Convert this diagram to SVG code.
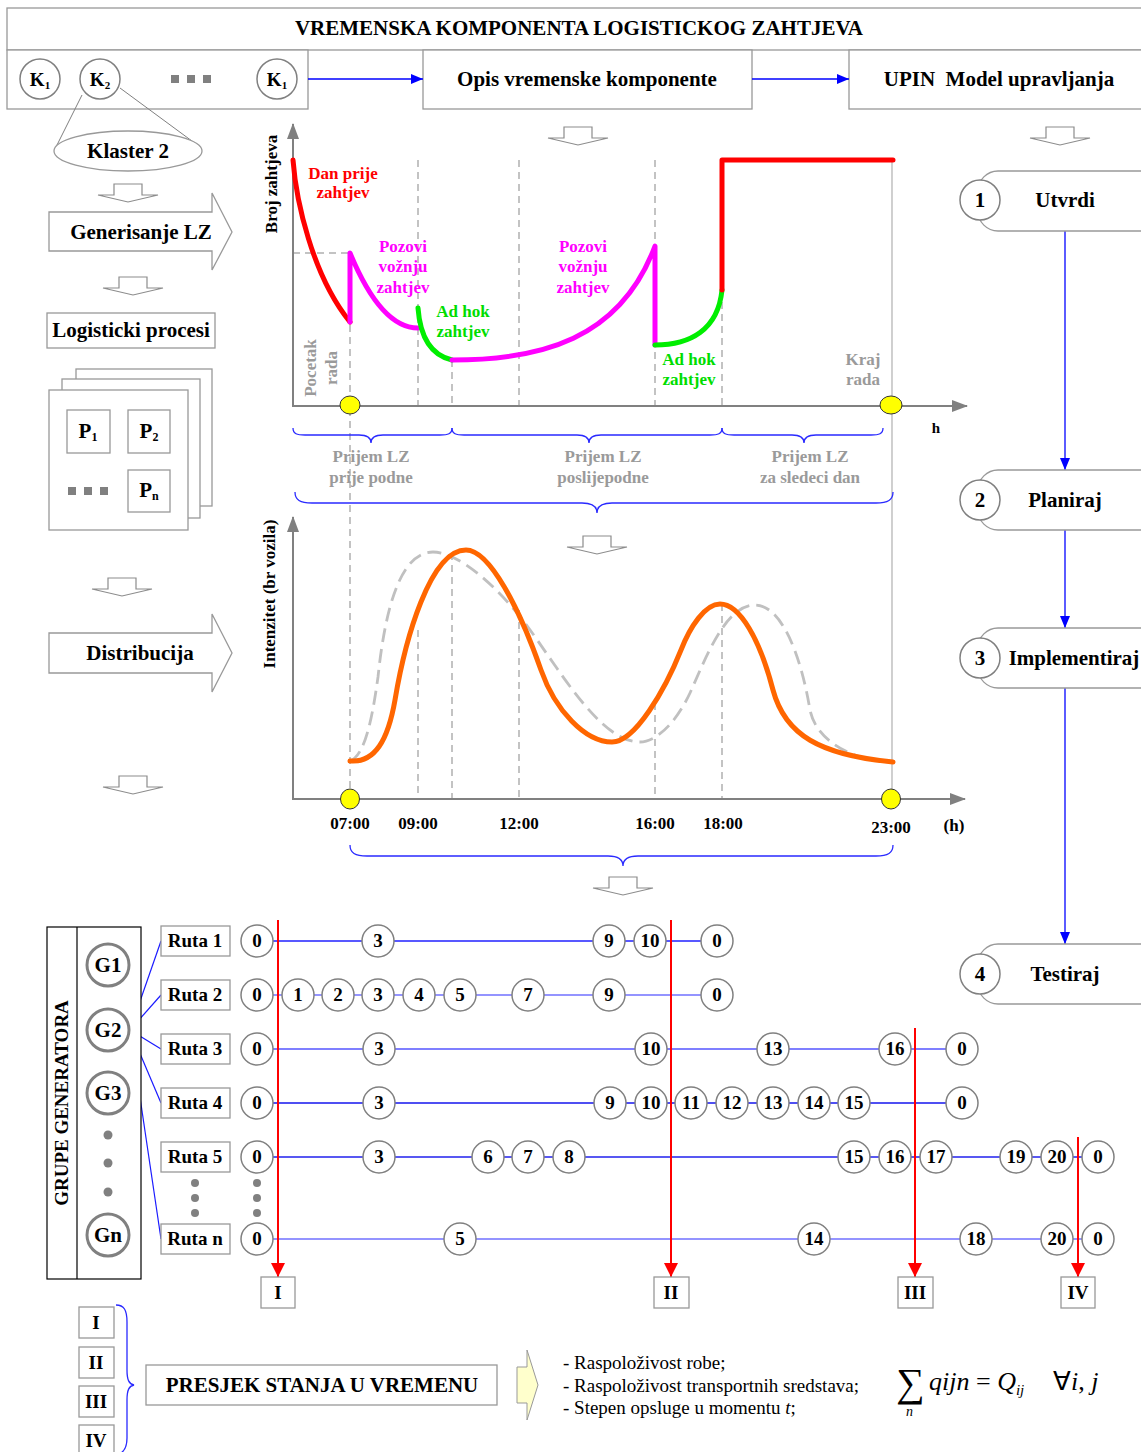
<svg xmlns="http://www.w3.org/2000/svg" width="1141" height="1452" viewBox="0 0 1141 1452">
<style>
  text { font-family: "Liberation Serif", "Times New Roman", serif; fill: #000; }
  .b { font-weight: bold; text-anchor: middle; }
  .s15 { font-size: 15px; } .s17 { font-size: 17px; } .s19 { font-size: 19px; } .s21 { font-size: 21px; }
  text.gray { fill: #9a9a9a; }
  text.red { fill: #ff0000; }
  text.mag { fill: #ff00ff; }
  text.grn { fill: #00dd00; }
  .box { fill: #fff; stroke: #999; stroke-width: 1.3; }
  .node { fill: #fff; stroke: #808080; stroke-width: 1.5; }
  .gnode { fill: #fff; stroke: #808080; stroke-width: 3; }
  .darr { fill: #fff; stroke: #8c8c8c; stroke-width: 1.2; }
  .axis { fill: none; stroke: #808080; stroke-width: 2; }
  .dash { fill: none; stroke: #b0b0b0; stroke-width: 1.5; stroke-dasharray: 7 5; }
  .brace { fill: none; stroke: #2a2aff; stroke-width: 1.3; }
  .sun { fill: #ffff00; stroke: #333; stroke-width: 1; }
  .curve { fill: none; stroke-width: 5; stroke-linecap: round; stroke-linejoin: round; }
  .route { stroke-width: 1.6; }
  .dot { fill: #808080; }
</style>
<defs>
  <marker id="blueHead" viewBox="0 0 12 10" refX="12" refY="5" markerWidth="12" markerHeight="10" markerUnits="userSpaceOnUse" orient="auto">
    <path d="M0,0 L12,5 L0,10 Z" fill="#0000ff"/>
  </marker>
  <marker id="redHead" viewBox="0 0 14 14" refX="14" refY="7" markerWidth="14" markerHeight="14" markerUnits="userSpaceOnUse" orient="auto">
    <path d="M0,0 L14,7 L0,14 Z" fill="#ff0000"/>
  </marker>
  <marker id="axisHead" viewBox="0 0 16 12" refX="15" refY="6" markerWidth="16" markerHeight="12" markerUnits="userSpaceOnUse" orient="auto">
    <path d="M0,0 L16,6 L0,12 Z" fill="#808080"/>
  </marker>
  <!-- hollow downward block arrow, origin at top centre -->
  <path id="downArrow" d="M-14,0 H14 V11 H30 L0,18 L-30,11 H-14 Z"/>
</defs>

<!-- ============ header ============ -->
<g id="header">
  <rect class="box" x="7" y="8" width="1145" height="42"/>
  <text class="b s21" x="579" y="35">VREMENSKA KOMPONENTA LOGISTICKOG ZAHTJEVA</text>
</g>
<g id="clusters">
  <rect class="box" x="7" y="50" width="301" height="59"/>
  <circle class="node" cx="40" cy="79" r="20" stroke-width="1"/>
  <text class="b s19" x="40" y="86">K<tspan font-size="11" dy="3">1</tspan></text>
  <circle class="node" cx="100" cy="79" r="20" stroke-width="1"/>
  <text class="b s19" x="100" y="86">K<tspan font-size="11" dy="3">2</tspan></text>
  <rect x="171" y="75" width="8" height="8" fill="#808080"/>
  <rect x="187" y="75" width="8" height="8" fill="#808080"/>
  <rect x="203" y="75" width="8" height="8" fill="#808080"/>
  <circle class="node" cx="277" cy="79" r="20" stroke-width="1"/>
  <text class="b s19" x="277" y="86">K<tspan font-size="11" dy="3">1</tspan></text>
</g>
<g id="opis">
  <rect class="box" x="423" y="50" width="329" height="59"/>
  <text class="b s21" x="587" y="86">Opis vremenske komponente</text>
</g>
<g id="upin">
  <rect class="box" x="849" y="50" width="300" height="59"/>
  <text class="b s21" x="999" y="86" xml:space="preserve">UPIN  Model upravljanja</text>
</g>

<!-- ============ left column ============ -->
<g id="klaster">
  <line x1="82" y1="95" x2="57" y2="145" stroke="#808080" stroke-width="1"/>
  <line x1="120" y1="88" x2="196" y2="144" stroke="#808080" stroke-width="1"/>
  <ellipse class="box" cx="128" cy="151" rx="74" ry="20"/>
  <text class="b s21" x="128" y="158">Klaster 2</text>
</g>
<g id="generisanje">
  <path class="box" d="M49,212 H212 V193 L232,232 L212,270 V251 H49 Z"/>
  <text class="b s21" x="141" y="239">Generisanje LZ</text>
</g>
<g id="logisticki-procesi">
  <rect class="box" x="47" y="313" width="168" height="35"/>
  <text class="b s21" x="131" y="337">Logisticki procesi</text>
</g>
<g id="procesi">
  <rect class="box" x="76" y="369" width="136" height="137"/>
  <rect class="box" x="62" y="379" width="138" height="139"/>
  <rect class="box" x="49" y="390" width="139" height="140"/>
  <rect class="box" x="67" y="410" width="43" height="43"/>
  <text class="b s21" x="88" y="438">P<tspan font-size="12" dy="3">1</tspan></text>
  <rect class="box" x="128" y="410" width="42" height="43"/>
  <text class="b s21" x="149" y="438">P<tspan font-size="12" dy="3">2</tspan></text>
  <rect class="box" x="128" y="470" width="42" height="42"/>
  <text class="b s21" x="149" y="497">P<tspan font-size="12" dy="3">n</tspan></text>
  <rect x="68" y="487" width="8" height="8" fill="#808080"/>
  <rect x="84" y="487" width="8" height="8" fill="#808080"/>
  <rect x="100" y="487" width="8" height="8" fill="#808080"/>
</g>
<g id="distribucija">
  <path class="box" d="M49,633 H212 V614 L232,653 L212,692 V673 H49 Z"/>
  <text class="b s21" x="140" y="660">Distribucija</text>
</g>

<!-- small flow arrows -->
<g id="flow-arrows" class="darr">
  <use href="#downArrow" x="128" y="184"/>
  <use href="#downArrow" x="133" y="277"/>
  <use href="#downArrow" x="122" y="578"/>
  <use href="#downArrow" x="133" y="776"/>
  <use href="#downArrow" x="578" y="127"/>
  <use href="#downArrow" x="1060" y="127"/>
  <use href="#downArrow" x="597" y="536"/>
  <use href="#downArrow" x="623" y="877"/>
</g>

<!-- ============ request count chart ============ -->
<g id="chart-requests">
  <line class="dash" x1="293" y1="253" x2="350" y2="253"/>
  <line class="dash" x1="350" y1="253" x2="350" y2="800"/>
  <line class="dash" x1="418" y1="160" x2="418" y2="405"/>
  <line class="dash" x1="452" y1="360" x2="452" y2="405"/>
  <line class="dash" x1="519" y1="160" x2="519" y2="405"/>
  <line class="dash" x1="655" y1="160" x2="655" y2="405"/>
  <line class="dash" x1="722" y1="290" x2="722" y2="405"/>
  <line x1="892" y1="161" x2="892" y2="799" stroke="#b0b0b0" stroke-width="1.2"/>
  <line class="axis" x1="293" y1="406" x2="293" y2="124" marker-end="url(#axisHead)"/>
  <line class="axis" x1="292" y1="406" x2="967" y2="406" marker-end="url(#axisHead)"/>

  <path class="curve" stroke="#ff0000" d="M293,160 C296,200 312,275 350,322"/>
  <path class="curve" stroke="#ff00ff" d="M350,322 L350,253 C362,282 385,328 418,328"/>
  <path class="curve" stroke="#00ee00" d="M418,308 C420,335 430,355 452,360"/>
  <path class="curve" stroke="#ff00ff" d="M452,360 C540,360 620,340 655,246 L655,345"/>
  <path class="curve" stroke="#00ee00" d="M655,345 C690,345 718,330 722,290"/>
  <path class="curve" stroke="#ff0000" stroke-linecap="butt" d="M722,290 L722,160 L893,160"/>

  <ellipse class="sun" cx="350" cy="405" rx="10" ry="9"/>
  <ellipse class="sun" cx="891" cy="405" rx="11" ry="9"/>

  <text class="b s17" transform="translate(277,184) rotate(-90)">Broj zahtjeva</text>
  <text class="b s17 red" x="343" y="179">Dan prije</text>
  <text class="b s17 red" x="343" y="198">zahtjev</text>
  <text class="b s17 mag" x="403" y="252">Pozovi</text>
  <text class="b s17 mag" x="403" y="272">vožnju</text>
  <text class="b s17 mag" x="403" y="293">zahtjev</text>
  <text class="b s17 mag" x="583" y="252">Pozovi</text>
  <text class="b s17 mag" x="583" y="272">vožnju</text>
  <text class="b s17 mag" x="583" y="293">zahtjev</text>
  <text class="b s17 grn" x="463" y="317">Ad hok</text>
  <text class="b s17 grn" x="463" y="337">zahtjev</text>
  <text class="b s17 grn" x="689" y="365">Ad hok</text>
  <text class="b s17 grn" x="689" y="385">zahtjev</text>
  <text class="b s17 gray" x="863" y="365">Kraj</text>
  <text class="b s17 gray" x="863" y="385">rada</text>
  <text class="b s17 gray" transform="translate(316,368) rotate(-90)">Pocetak</text>
  <text class="b s17 gray" transform="translate(337,368) rotate(-90)">rada</text>
  <text class="b s15" x="936" y="433">h</text>

  <path class="brace" d="M293,428 C293,434 297,435 305,435 L359,435 C367,435 371,437 371,443 C371,437 375,435 383,435 L440,435 C448,435 452,434 452,428"/>
  <path class="brace" d="M452,428 C452,434 456,435 464,435 L577,435 C585,435 589,437 589,443 C589,437 593,435 601,435 L710,435 C718,435 722,434 722,428"/>
  <path class="brace" d="M722,428 C722,434 726,435 734,435 L792,435 C800,435 804,437 804,443 C804,437 808,435 816,435 L871,435 C879,435 883,434 883,428"/>
  <text class="b s17 gray" x="371" y="462">Prijem LZ</text>
  <text class="b s17 gray" x="371" y="483">prije podne</text>
  <text class="b s17 gray" x="603" y="462">Prijem LZ</text>
  <text class="b s17 gray" x="603" y="483">poslijepodne</text>
  <text class="b s17 gray" x="810" y="462">Prijem LZ</text>
  <text class="b s17 gray" x="810" y="483">za sledeci dan</text>
  <path class="brace" d="M295,492 C295,500 300,503 312,503 L582,503 C592,503 597,506 597,513 C597,506 602,503 612,503 L876,503 C888,503 893,500 893,492"/>
</g>

<!-- ============ traffic intensity chart ============ -->
<g id="chart-intensity">
  <line class="dash" x1="418" y1="630" x2="418" y2="799"/>
  <line class="dash" x1="452" y1="553" x2="452" y2="799"/>
  <line class="dash" x1="519" y1="610" x2="519" y2="799"/>
  <line class="dash" x1="655" y1="703" x2="655" y2="799"/>
  <line class="dash" x1="722" y1="604" x2="722" y2="799"/>
  <line class="axis" x1="293" y1="800" x2="293" y2="517" marker-end="url(#axisHead)"/>
  <line class="axis" x1="292" y1="799" x2="965" y2="799" marker-end="url(#axisHead)"/>

  <path fill="none" stroke="#c0c0c0" stroke-width="2.8" stroke-dasharray="14 7"
        d="M350,761 C365,755 372,720 378,677 C385,610 400,552 433,552 C460,552 500,590 525,623 C560,670 600,742 640,742 C655,742 675,725 690,693 C705,660 725,605 755,605 C780,605 800,650 810,710 C816,740 850,760 891,762"/>
  <path class="curve" stroke="#ff6600" stroke-width="4.5"
        d="M350,761 C375,763 388,740 395,700 C405,640 430,550 466,550 C490,550 520,610 541,670 C555,710 585,742 612,742 C635,742 665,690 681,650 C690,627 705,604 720,604 C740,604 760,640 773,690 C785,735 820,755 893,762"/>

  <ellipse class="sun" cx="350" cy="799" rx="9.5" ry="10"/>
  <ellipse class="sun" cx="891" cy="799" rx="9.5" ry="10"/>

  <text class="b s17" transform="translate(275,594) rotate(-90)">Intenzitet (br vozila)</text>
  <text class="b s17" x="350" y="829">07:00</text>
  <text class="b s17" x="418" y="829">09:00</text>
  <text class="b s17" x="519" y="829">12:00</text>
  <text class="b s17" x="655" y="829">16:00</text>
  <text class="b s17" x="723" y="829">18:00</text>
  <text class="b s17" x="891" y="833">23:00</text>
  <text class="b s17" x="954" y="831">(h)</text>
  <path class="brace" d="M350,845 C350,853 355,856 367,856 L608,856 C618,856 623,859 623,866 C623,859 628,856 638,856 L876,856 C888,856 893,853 893,845"/>
</g>

<!-- ============ connectors ============ -->
<g id="connectors" fill="none">
  <line x1="308" y1="79" x2="423" y2="79" stroke="#0000ff" stroke-width="1.3" marker-end="url(#blueHead)"/>
  <line x1="752" y1="79" x2="849" y2="79" stroke="#0000ff" stroke-width="1.3" marker-end="url(#blueHead)"/>
  <line x1="1065" y1="231" x2="1065" y2="470" stroke="#3333ff" stroke-width="1.6" marker-end="url(#blueHead)"/>
  <line x1="1065" y1="530" x2="1065" y2="628" stroke="#3333ff" stroke-width="1.6" marker-end="url(#blueHead)"/>
  <line x1="1065" y1="688" x2="1065" y2="944" stroke="#3333ff" stroke-width="1.6" marker-end="url(#blueHead)"/>
  <g stroke="#1a1aff" stroke-width="1.2">
    <line x1="130" y1="1030" x2="161" y2="941"/>
    <line x1="130" y1="1030" x2="161" y2="995"/>
    <line x1="130" y1="1030" x2="161" y2="1049"/>
    <line x1="130" y1="1030" x2="161" y2="1103"/>
    <line x1="130" y1="1030" x2="161" y2="1239"/>
  </g>
  <line class="route" x1="257" y1="941" x2="717" y2="941" stroke="#2020ff"/>
  <line class="route" x1="257" y1="995" x2="717" y2="995" stroke="#7070ff"/>
  <line class="route" x1="257" y1="1049" x2="962" y2="1049" stroke="#5555ff"/>
  <line class="route" x1="257" y1="1103" x2="962" y2="1103" stroke="#1515ee"/>
  <line class="route" x1="257" y1="1157" x2="1098" y2="1157" stroke="#2020ee"/>
  <line class="route" x1="257" y1="1239" x2="1098" y2="1239" stroke="#7070ff"/>
  <g stroke="#ff0000" stroke-width="2">
    <line x1="278" y1="920" x2="278" y2="1277" marker-end="url(#redHead)"/>
    <line x1="671" y1="920" x2="671" y2="1277" marker-end="url(#redHead)"/>
    <line x1="915" y1="1028" x2="915" y2="1277" marker-end="url(#redHead)"/>
    <line x1="1078" y1="1137" x2="1078" y2="1277" marker-end="url(#redHead)"/>
  </g>
</g>

<!-- ============ UPIN steps ============ -->
<g id="step-1">
  <rect class="box" x="978" y="171" width="200" height="60" rx="20" ry="20"/>
  <circle class="node" cx="980" cy="200" r="20" stroke="#999" stroke-width="1.2"/>
  <text class="b s21" x="980" y="207">1</text>
  <text class="b s21" x="1065" y="207">Utvrdi</text>
</g>
<g id="step-2">
  <rect class="box" x="978" y="470" width="200" height="60" rx="20" ry="20"/>
  <circle class="node" cx="980" cy="500" r="20" stroke="#999" stroke-width="1.2"/>
  <text class="b s21" x="980" y="507">2</text>
  <text class="b s21" x="1065" y="507">Planiraj</text>
</g>
<g id="step-3">
  <rect class="box" x="978" y="628" width="200" height="60" rx="20" ry="20"/>
  <circle class="node" cx="980" cy="658" r="20" stroke="#999" stroke-width="1.2"/>
  <text class="b s21" x="980" y="665">3</text>
  <text class="b s21" x="1074" y="665">Implementiraj</text>
</g>
<g id="step-4">
  <rect class="box" x="978" y="944" width="200" height="60" rx="20" ry="20"/>
  <circle class="node" cx="980" cy="974" r="20" stroke="#999" stroke-width="1.2"/>
  <text class="b s21" x="980" y="981">4</text>
  <text class="b s21" x="1065" y="981">Testiraj</text>
</g>

<!-- ============ generator groups ============ -->
<g id="generator-groups">
  <rect x="47" y="927" width="94" height="352" fill="#fff" stroke="#000" stroke-width="1.2"/>
  <line x1="77" y1="927" x2="77" y2="1279" stroke="#000" stroke-width="1.2"/>
  <text class="b s19" transform="translate(68,1103) rotate(-90)">GRUPE GENERATORA</text>
  <circle class="gnode" cx="108" cy="965" r="21"/>
  <text class="b s21" x="108" y="972">G1</text>
  <circle class="gnode" cx="108" cy="1030" r="21"/>
  <text class="b s21" x="108" y="1037">G2</text>
  <circle class="gnode" cx="108" cy="1093" r="21"/>
  <text class="b s21" x="108" y="1100">G3</text>
  <circle class="dot" cx="108" cy="1135" r="4.5"/>
  <circle class="dot" cx="108" cy="1163" r="4.5"/>
  <circle class="dot" cx="108" cy="1192" r="4.5"/>
  <circle class="gnode" cx="108" cy="1235" r="21"/>
  <text class="b s21" x="108" y="1242">Gn</text>
</g>

<!-- ============ routes ============ -->
<g id="route-labels">
  <rect class="box" x="161" y="926" width="69" height="30"/>
  <text class="b s19" x="195" y="947">Ruta 1</text>
  <rect class="box" x="161" y="980" width="69" height="30"/>
  <text class="b s19" x="195" y="1001">Ruta 2</text>
  <rect class="box" x="161" y="1034" width="69" height="30"/>
  <text class="b s19" x="195" y="1055">Ruta 3</text>
  <rect class="box" x="161" y="1088" width="69" height="30"/>
  <text class="b s19" x="195" y="1109">Ruta 4</text>
  <rect class="box" x="161" y="1142" width="69" height="30"/>
  <text class="b s19" x="195" y="1163">Ruta 5</text>
  <circle class="dot" cx="195" cy="1183" r="4"/>
  <circle class="dot" cx="195" cy="1198" r="4"/>
  <circle class="dot" cx="195" cy="1213" r="4"/>
  <circle class="dot" cx="257" cy="1183" r="4"/>
  <circle class="dot" cx="257" cy="1198" r="4"/>
  <circle class="dot" cx="257" cy="1213" r="4"/>
  <rect class="box" x="161" y="1224" width="69" height="30"/>
  <text class="b s19" x="195" y="1245">Ruta n</text>
</g>

<g id="route-1">
  <circle class="node" cx="257" cy="941" r="16"/><text class="b s19" x="257" y="947">0</text>
  <circle class="node" cx="378" cy="941" r="16"/><text class="b s19" x="378" y="947">3</text>
  <circle class="node" cx="609" cy="941" r="16"/><text class="b s19" x="609" y="947">9</text>
  <circle class="node" cx="650" cy="941" r="16"/><text class="b s19" x="650" y="947">10</text>
  <circle class="node" cx="717" cy="941" r="16"/><text class="b s19" x="717" y="947">0</text>
</g>
<g id="route-2">
  <circle class="node" cx="257" cy="995" r="16"/><text class="b s19" x="257" y="1001">0</text>
  <circle class="node" cx="298" cy="995" r="16"/><text class="b s19" x="298" y="1001">1</text>
  <circle class="node" cx="338" cy="995" r="16"/><text class="b s19" x="338" y="1001">2</text>
  <circle class="node" cx="378" cy="995" r="16"/><text class="b s19" x="378" y="1001">3</text>
  <circle class="node" cx="419" cy="995" r="16"/><text class="b s19" x="419" y="1001">4</text>
  <circle class="node" cx="460" cy="995" r="16"/><text class="b s19" x="460" y="1001">5</text>
  <circle class="node" cx="528" cy="995" r="16"/><text class="b s19" x="528" y="1001">7</text>
  <circle class="node" cx="609" cy="995" r="16"/><text class="b s19" x="609" y="1001">9</text>
  <circle class="node" cx="717" cy="995" r="16"/><text class="b s19" x="717" y="1001">0</text>
</g>
<g id="route-3">
  <circle class="node" cx="257" cy="1049" r="16"/><text class="b s19" x="257" y="1055">0</text>
  <circle class="node" cx="379" cy="1049" r="16"/><text class="b s19" x="379" y="1055">3</text>
  <circle class="node" cx="651" cy="1049" r="16"/><text class="b s19" x="651" y="1055">10</text>
  <circle class="node" cx="773" cy="1049" r="16"/><text class="b s19" x="773" y="1055">13</text>
  <circle class="node" cx="895" cy="1049" r="16"/><text class="b s19" x="895" y="1055">16</text>
  <circle class="node" cx="962" cy="1049" r="16"/><text class="b s19" x="962" y="1055">0</text>
</g>
<g id="route-4">
  <circle class="node" cx="257" cy="1103" r="16"/><text class="b s19" x="257" y="1109">0</text>
  <circle class="node" cx="379" cy="1103" r="16"/><text class="b s19" x="379" y="1109">3</text>
  <circle class="node" cx="610" cy="1103" r="16"/><text class="b s19" x="610" y="1109">9</text>
  <circle class="node" cx="651" cy="1103" r="16"/><text class="b s19" x="651" y="1109">10</text>
  <circle class="node" cx="691" cy="1103" r="16"/><text class="b s19" x="691" y="1109">11</text>
  <circle class="node" cx="732" cy="1103" r="16"/><text class="b s19" x="732" y="1109">12</text>
  <circle class="node" cx="773" cy="1103" r="16"/><text class="b s19" x="773" y="1109">13</text>
  <circle class="node" cx="814" cy="1103" r="16"/><text class="b s19" x="814" y="1109">14</text>
  <circle class="node" cx="854" cy="1103" r="16"/><text class="b s19" x="854" y="1109">15</text>
  <circle class="node" cx="962" cy="1103" r="16"/><text class="b s19" x="962" y="1109">0</text>
</g>
<g id="route-5">
  <circle class="node" cx="257" cy="1157" r="16"/><text class="b s19" x="257" y="1163">0</text>
  <circle class="node" cx="379" cy="1157" r="16"/><text class="b s19" x="379" y="1163">3</text>
  <circle class="node" cx="488" cy="1157" r="16"/><text class="b s19" x="488" y="1163">6</text>
  <circle class="node" cx="528" cy="1157" r="16"/><text class="b s19" x="528" y="1163">7</text>
  <circle class="node" cx="569" cy="1157" r="16"/><text class="b s19" x="569" y="1163">8</text>
  <circle class="node" cx="854" cy="1157" r="16"/><text class="b s19" x="854" y="1163">15</text>
  <circle class="node" cx="895" cy="1157" r="16"/><text class="b s19" x="895" y="1163">16</text>
  <circle class="node" cx="936" cy="1157" r="16"/><text class="b s19" x="936" y="1163">17</text>
  <circle class="node" cx="1016" cy="1157" r="16"/><text class="b s19" x="1016" y="1163">19</text>
  <circle class="node" cx="1057" cy="1157" r="16"/><text class="b s19" x="1057" y="1163">20</text>
  <circle class="node" cx="1098" cy="1157" r="16"/><text class="b s19" x="1098" y="1163">0</text>
</g>
<g id="route-n">
  <circle class="node" cx="257" cy="1239" r="16"/><text class="b s19" x="257" y="1245">0</text>
  <circle class="node" cx="460" cy="1239" r="16"/><text class="b s19" x="460" y="1245">5</text>
  <circle class="node" cx="814" cy="1239" r="16"/><text class="b s19" x="814" y="1245">14</text>
  <circle class="node" cx="976" cy="1239" r="16"/><text class="b s19" x="976" y="1245">18</text>
  <circle class="node" cx="1057" cy="1239" r="16"/><text class="b s19" x="1057" y="1245">20</text>
  <circle class="node" cx="1098" cy="1239" r="16"/><text class="b s19" x="1098" y="1245">0</text>
</g>

<!-- time cut markers -->
<g id="cut-I"><rect class="box" x="261" y="1277" width="34" height="31"/><text class="b s19" x="278" y="1299">I</text></g>
<g id="cut-II"><rect class="box" x="654" y="1277" width="35" height="31"/><text class="b s19" x="671" y="1299">II</text></g>
<g id="cut-III"><rect class="box" x="898" y="1277" width="35" height="31"/><text class="b s19" x="915" y="1299">III</text></g>
<g id="cut-IV"><rect class="box" x="1061" y="1277" width="34" height="31"/><text class="b s19" x="1078" y="1299">IV</text></g>

<!-- ============ state cross-section ============ -->
<g id="cut-legend">
  <rect class="box" x="79" y="1307" width="35" height="31"/><text class="b s19" x="96" y="1329">I</text>
  <rect class="box" x="79" y="1347" width="35" height="31"/><text class="b s19" x="96" y="1369">II</text>
  <rect class="box" x="79" y="1386" width="35" height="31"/><text class="b s19" x="96" y="1408">III</text>
  <rect class="box" x="79" y="1425" width="35" height="31"/><text class="b s19" x="96" y="1447">IV</text>
  <path class="brace" d="M116,1305 C124,1305 127,1310 127,1322 L127,1370 C127,1380 129,1384 134,1385 C129,1386 127,1390 127,1400 L127,1438 C127,1448 124,1452 119,1454"/>
</g>
<g id="presjek">
  <rect class="box" x="146" y="1365" width="351" height="40"/>
  <text class="b s21" x="322" y="1392">PRESJEK STANJA U VREMENU</text>
</g>
<g id="presjek-arrow">
  <path d="M517,1367 H527 V1350 L538,1385 L527,1420 V1403 H517 Z" fill="#ffffcc" stroke="#999" stroke-width="1"/>
</g>
<g id="state-list" font-size="19">
  <text x="563" y="1369">- Raspoloživost robe;</text>
  <text x="563" y="1392">- Raspoloživost transportnih sredstava;</text>
  <text x="563" y="1414">- Stepen opsluge u momentu <tspan font-style="italic">t</tspan>;</text>
</g>
<g id="formula">
  <text x="896" y="1396" font-size="40">∑</text>
  <text x="906" y="1416" font-size="14" font-style="italic">n</text>
  <text x="929" y="1390" font-size="26" font-style="italic">qijn<tspan font-style="normal"> = </tspan>Q<tspan font-size="15" dy="5">ij</tspan></text>
  <text x="1053" y="1390" font-size="26"><tspan>∀</tspan><tspan font-style="italic">i</tspan>, <tspan font-style="italic">j</tspan></text>
</g>
</svg>
